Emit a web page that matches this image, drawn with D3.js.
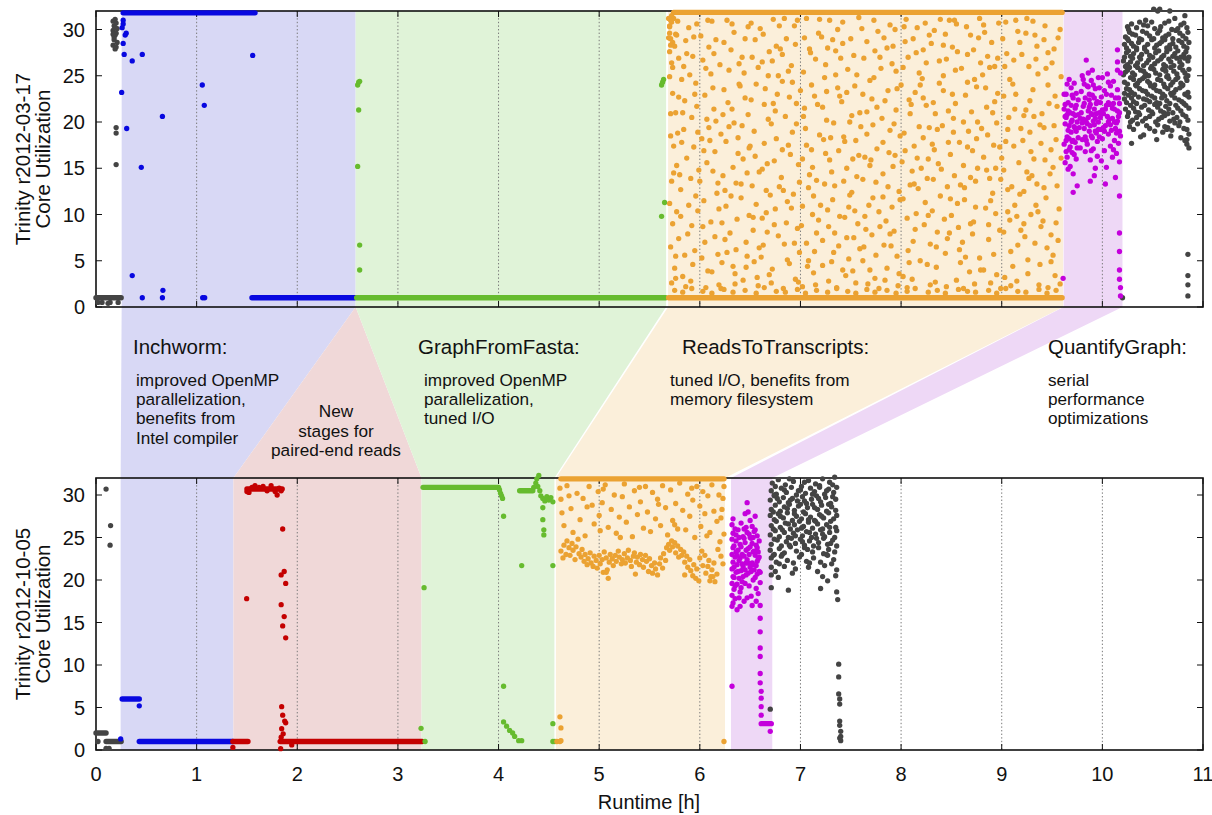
<!DOCTYPE html>
<html><head><meta charset="utf-8">
<script src="https://cdn.jsdelivr.net/npm/d3@7"></script>
<style>body{margin:0;background:#fff}svg{display:block;font-family:"Liberation Sans",Arial,Helvetica,sans-serif}</style>
</head><body><svg id="c" width="1212" height="815"></svg>
<script>
// ---------- data ----------
const xTicks=[0,1,2,3,4,5,6,7,8,9,10,11];
const yTicks=[0,5,10,15,20,25,30];
const gridHours=[1,2,3,4,5,6,7,8,9,10];
const panelTitles=[["Trinity r2012-03-17","Core Utilization"],["Trinity r2012-10-05","Core Utilization"]];
const xTitle="Runtime [h]";
const stageNames=["Inchworm","New stages","GraphFromFasta","ReadsToTranscripts","QuantifyGraph"];
const stageTop=[[0.255,2.58],[2.58,2.58],[2.58,5.665],[5.685,9.61],[9.615,10.20]];
const stageBottom=[[0.245,1.365],[1.365,3.235],[3.235,4.555],[4.57,6.25],[6.31,6.72]];
const noteHeads=["Inchworm:","GraphFromFasta:","ReadsToTranscripts:","QuantifyGraph:"];
const noteBodies=[["improved OpenMP","parallelization,","benefits from","Intel compiler"],["improved OpenMP","parallelization,","tuned I/O"],["tuned I/O, benefits from","memory filesystem"],["serial","performance","optimizations"]];
const noteNew=["New","stages for","paired-end reads"];

// runs: [series, xStart(h), xEnd(h), utilization]
const runsTop=[["gray",0.0,0.25,1.0],["blue",0.27,1.58,31.8],["blue",1.55,2.57,1.0],["green",2.59,5.66,1.0],["orange",5.69,9.60,1.0],["orange",5.74,9.60,31.85]];
const runsBottom=[["gray",0.0,0.10,2.0],["gray",0.10,0.25,1.0],["blue",0.26,0.43,6.0],["blue",0.43,1.36,1.0],["red",1.36,1.51,1.0],["red",1.50,1.85,30.7],["red",1.83,3.24,1.0],["green",3.25,4.0,30.9],["green",4.21,4.34,30.5],["orange",4.62,6.24,31.9],["magenta",6.61,6.71,3.1]];

// scattered samples, flat [h, util, h, util, ...]
const topGray=[0.17,30.9,0.18,30.4,0.17,29.9,0.19,29.4,0.18,28.9,0.17,28.3,0.19,27.9,0.20,30.7,0.20,29.6,0.21,28.6,0.19,31.1,0.18,29.2,0.20,28.1,0.21,30.1,0.17,29.5,0.19,30.2,0.20,19.4,0.20,18.8,0.20,15.4,0.02,0.5,0.06,0.5,0.12,0.4,0.14,0.5,0.22,0.5,
10.51,32.2,10.57,32.2,10.72,31.2,10.82,31.5,10.43,31.0,10.55,32.0,10.67,32.0,
10.25,30.3,10.29,30.6,10.37,30.8,10.45,30.4,10.52,30.1,10.62,30.7,10.69,30.0,10.78,30.5,10.84,30.2,
10.23,29.2,10.27,29.7,10.33,29.4,10.40,29.8,10.47,29.3,10.55,29.6,10.60,29.1,10.66,29.5,10.73,29.9,10.80,29.3,10.85,29.7,
10.22,28.4,10.26,28.8,10.31,28.2,10.36,28.6,10.42,28.1,10.49,28.9,10.54,28.3,10.59,28.7,10.64,28.0,10.70,28.5,10.76,28.8,10.81,28.2,10.86,28.6,
10.24,27.5,10.28,27.1,10.34,27.8,10.39,27.3,10.44,27.6,10.50,27.0,10.56,27.7,10.61,27.2,10.67,27.9,10.72,27.4,10.78,27.0,10.83,27.6,
10.21,26.6,10.25,26.2,10.30,26.9,10.35,26.4,10.41,26.1,10.46,26.7,10.52,26.3,10.58,26.8,10.63,26.0,10.68,26.5,10.74,26.9,10.79,26.2,10.85,26.6,
10.23,25.4,10.27,25.9,10.32,25.1,10.38,25.6,10.43,25.2,10.48,25.8,10.53,25.3,10.60,25.7,10.65,25.0,10.71,25.5,10.77,25.9,10.82,25.3,10.86,25.7,
10.22,24.3,10.28,24.8,10.33,24.0,10.37,24.5,10.42,24.9,10.47,24.2,10.55,24.6,10.61,24.1,10.66,24.7,10.70,24.3,10.75,24.8,10.80,24.0,10.84,24.5,
10.24,23.6,10.29,23.2,10.34,23.9,10.40,23.4,10.45,23.0,10.51,23.7,10.57,23.3,10.62,23.8,10.68,23.1,10.73,23.5,10.79,23.9,10.85,23.2,
10.22,22.5,10.26,22.9,10.31,22.2,10.36,22.7,10.44,22.4,10.49,22.8,10.54,22.1,10.59,22.6,10.64,22.3,10.69,22.9,10.76,22.4,10.81,22.0,10.86,22.7,
10.23,21.4,10.28,21.8,10.33,21.1,10.39,21.6,10.46,21.3,10.52,21.9,10.58,21.2,10.63,21.7,10.70,21.0,10.75,21.5,10.83,21.8,
10.25,20.6,10.30,20.2,10.37,20.8,10.43,20.4,10.50,20.9,10.56,20.3,10.62,20.7,10.67,20.1,10.74,20.5,10.80,20.8,10.85,20.2,
10.27,19.5,10.35,19.8,10.47,19.3,10.55,19.7,10.65,19.4,10.72,19.9,10.84,19.2,
10.41,18.6,10.60,18.9,10.78,18.3,10.86,18.7,10.84,17.6,10.86,17.2,10.29,17.7,10.64,19.2,10.84,18.1,
10.26,30.0,10.34,30.2,10.41,30.5,10.49,30.8,10.58,30.3,10.66,30.9,10.75,30.1,10.81,30.7,
10.25,29.0,10.30,29.5,10.37,29.0,10.44,29.6,10.51,29.0,10.57,29.9,10.63,29.3,10.70,29.0,10.77,29.6,10.83,29.0,
10.24,28.0,10.29,28.5,10.34,28.0,10.39,28.9,10.45,28.4,10.52,28.0,10.57,28.5,10.62,28.9,10.67,28.3,10.73,28.1,10.79,28.6,10.84,28.0,
10.22,27.0,10.26,27.7,10.31,27.4,10.37,27.0,10.42,27.9,10.47,27.2,10.53,27.5,10.59,27.0,10.64,27.6,10.70,27.1,10.75,27.7,10.81,27.3,10.86,27.0,
10.23,26.0,10.28,26.5,10.33,26.1,10.38,26.8,10.44,26.4,10.49,26.0,10.55,26.6,10.61,26.2,10.66,26.8,10.71,26.1,10.77,26.5,10.82,26.9,
10.21,25.1,10.25,25.6,10.30,25.3,10.35,25.9,10.41,25.5,10.46,25.0,10.51,25.7,10.57,25.1,10.63,25.5,10.68,25.9,10.74,25.2,10.80,25.6,10.85,25.0,
10.25,24.1,10.31,24.6,10.35,24.2,10.40,24.7,10.45,24.4,10.52,24.0,10.58,24.5,10.64,24.9,10.68,24.0,10.73,24.6,10.78,24.2,10.83,24.8,
10.22,23.1,10.27,23.5,10.32,23.0,10.37,23.6,10.43,23.3,10.48,23.9,10.54,23.4,10.60,23.0,10.65,23.6,10.71,23.2,10.77,23.7,10.82,23.0,
10.24,22.1,10.29,22.6,10.34,22.0,10.41,22.5,10.47,22.2,10.52,22.6,10.57,22.0,10.62,22.8,10.67,22.0,10.72,22.6,10.79,22.2,10.84,22.9,
10.26,21.0,10.31,21.5,10.36,21.0,10.42,21.8,10.49,21.1,10.55,21.6,10.61,21.0,10.66,21.4,10.73,21.8,10.78,21.2,10.86,21.5,
10.28,20.0,10.34,20.5,10.40,20.1,10.47,20.6,10.53,20.0,10.59,20.5,10.65,20.9,10.71,20.3,10.77,20.0,10.83,20.6,
10.31,19.2,10.44,19.6,10.52,19.0,10.62,19.5,10.69,19.1,10.76,19.6,10.81,19.3,10.38,18.4,10.54,18.1,10.68,18.5,10.82,18.0,
10.85,5.7,10.85,3.4,10.85,2.4,10.85,1.2,10.20,1.0];
const topBlue=[0.255,23.2,0.26,30.2,0.27,28.5,0.28,27.3,0.29,29.4,0.30,29.6,0.305,19.3,0.36,26.6,0.36,3.4,0.46,27.3,0.45,15.1,0.46,1.0,0.66,20.6,0.665,1.8,0.66,1.0,1.056,24.0,1.076,21.8,1.06,1.0,1.08,1.0,1.557,27.2,0.27,31.0,0.27,30.6];
const topGreen=[2.60,24.0,2.61,24.3,2.62,24.4,2.61,21.3,2.60,15.2,2.62,6.7,2.62,4.0,5.62,24.0,5.63,24.3,5.64,24.6,5.65,11.3,5.62,9.8];
const topOrange=[5.72,31.5,5.71,31.0,5.70,30.3,5.70,29.6,5.71,29.0,5.73,28.6,5.72,30.8,5.74,31.2,5.75,28.2,5.76,29.5,
5.69,31.2,5.70,30.4,5.69,29.1,5.71,28.3,5.70,27.6,5.72,26.4,5.70,24.9,5.73,23.1,5.71,20.9,5.74,17.4,5.72,13.6,5.70,11.2,5.73,9.0,5.71,6.5,5.75,4.2,5.72,2.6,5.78,30.9,5.77,29.4,5.79,26.9,5.76,21.0,5.78,18.8,5.77,15.3,5.79,7.4,5.76,3.1,
5.82,24.6,5.84,19.2,5.81,12.7,5.86,28.8,5.88,7.9,5.83,3.3,5.87,16.1,5.85,22.3,5.89,30.2,5.81,9.8,5.86,2.2,5.84,26.0,
5.91,13.9,5.93,27.1,5.95,6.1,5.92,20.5,5.97,30.6,5.94,17.3,5.98,10.4,5.96,24.2,5.91,2.8,5.99,14.8,5.93,4.6,5.97,21.7,
6.01,29.3,6.04,11.5,6.02,18.2,6.06,25.8,6.08,3.9,6.03,8.7,6.07,15.6,6.05,22.9,6.09,28.1,6.02,5.3,6.06,2.1,6.09,19.4,
6.11,9.2,6.13,23.7,6.15,16.8,6.12,30.9,6.17,12.3,6.14,27.4,6.18,5.7,6.16,20.1,6.19,2.4,6.11,25.2,6.15,7.6,6.18,13.4,
6.21,18.7,6.24,28.6,6.22,4.8,6.26,10.9,6.28,22.1,6.23,14.2,6.27,31.0,6.25,7.3,6.29,25.6,6.21,2.0,6.26,17.9,6.23,20.8,
6.31,27.8,6.33,15.1,6.35,3.6,6.32,21.4,6.37,9.5,6.34,29.7,6.38,18.3,6.36,6.2,6.39,24.1,6.31,12.0,6.35,2.5,6.38,16.6,
6.41,11.8,6.44,25.3,6.42,19.6,6.46,7.0,6.48,30.3,6.43,2.9,6.47,14.5,6.45,22.6,6.49,9.9,6.42,27.0,6.46,4.3,6.49,17.2,
6.51,22.4,6.53,8.3,6.55,28.9,6.52,13.1,6.57,3.2,6.54,19.0,6.58,25.9,6.56,11.1,6.59,6.4,6.51,30.7,6.55,16.3,6.58,2.3,
6.61,5.4,6.64,17.7,6.62,26.5,6.66,12.6,6.68,20.3,6.63,29.5,6.67,8.1,6.65,23.6,6.69,3.5,6.62,14.9,6.66,10.2,6.69,27.6,
6.71,19.8,6.73,31.1,6.75,10.6,6.72,4.1,6.77,23.0,6.74,15.8,6.78,7.7,6.76,28.2,6.79,13.0,6.71,2.6,6.75,21.2,6.78,25.0,
6.81,14.0,6.84,6.8,6.82,24.4,6.86,29.0,6.88,17.5,6.83,2.0,6.87,11.4,6.85,20.6,6.89,4.7,6.82,27.3,6.86,9.1,6.89,22.7,
6.91,26.1,6.93,12.2,6.95,3.0,6.92,18.9,6.97,8.5,6.94,30.4,6.98,15.4,6.96,22.0,6.99,5.9,6.91,10.7,6.95,28.4,6.98,2.7,
7.01,8.8,7.04,21.5,7.02,16.0,7.06,31.2,7.08,12.9,7.03,25.4,7.07,4.4,7.05,19.3,7.09,27.9,7.02,2.2,7.06,6.9,7.09,14.3,
7.11,17.0,7.13,3.7,7.15,26.8,7.12,10.0,7.17,21.9,7.14,6.0,7.18,29.6,7.16,13.7,7.19,18.6,7.11,24.0,7.15,2.4,7.18,9.4,
7.21,29.2,7.24,13.3,7.22,7.2,7.26,23.3,7.28,2.8,7.23,18.1,7.27,10.5,7.25,26.2,7.29,15.9,7.22,4.5,7.26,20.2,7.29,31.0,
7.31,4.9,7.33,19.9,7.35,25.1,7.32,11.6,7.37,30.0,7.34,8.0,7.38,16.9,7.36,2.1,7.39,22.8,7.31,14.6,7.35,27.7,7.38,6.6,
7.41,22.2,7.44,9.7,7.42,28.5,7.46,15.0,7.48,5.2,7.43,18.4,7.47,25.7,7.45,3.4,7.49,12.1,7.42,30.8,7.46,7.5,7.49,20.0,
7.51,12.4,7.53,27.2,7.55,18.0,7.52,3.9,7.57,9.0,7.54,23.9,7.58,31.3,7.56,14.1,7.59,6.3,7.51,20.7,7.55,2.6,7.58,16.4,
7.61,30.1,7.64,16.2,7.62,5.0,7.66,21.1,7.68,11.0,7.63,26.9,7.67,2.5,7.65,8.4,7.69,24.5,7.62,13.8,7.66,18.7,7.69,4.0,
7.71,7.8,7.73,24.8,7.75,13.5,7.72,19.7,7.77,29.8,7.74,3.1,7.78,10.3,7.76,17.1,7.79,27.0,7.71,22.5,7.75,5.6,7.78,2.0,
7.81,20.4,7.84,2.9,7.82,11.9,7.86,28.0,7.88,16.7,7.83,6.7,7.87,23.4,7.85,9.3,7.89,30.5,7.82,14.4,7.86,4.2,7.89,19.1,
7.91,26.3,7.93,8.2,7.95,21.3,7.92,15.2,7.97,2.3,7.94,30.0,7.98,12.5,7.96,5.5,7.99,18.5,7.91,10.8,7.95,25.5,7.98,3.6,
8.01,15.7,8.04,28.7,8.02,3.3,8.06,9.6,8.08,22.4,8.03,18.8,8.07,6.1,8.05,31.1,8.09,13.2,8.02,25.9,8.06,2.1,8.09,20.9,
8.11,3.0,8.13,17.4,8.15,27.5,8.12,7.1,8.17,12.8,8.14,23.2,8.18,19.5,8.16,30.2,8.19,5.0,8.11,14.7,8.15,10.1,8.18,25.3,
8.21,24.7,8.24,11.3,8.22,18.3,8.26,4.6,8.28,29.4,8.23,8.9,8.27,16.0,8.25,21.8,8.29,2.4,8.22,27.8,8.26,13.9,8.29,6.8,
8.31,10.4,8.33,29.9,8.35,6.5,8.32,22.1,8.37,15.5,8.34,2.7,8.38,26.6,8.36,19.2,8.39,12.0,8.31,17.6,8.35,4.3,8.38,24.2,
8.41,19.6,8.44,5.8,8.42,25.0,8.46,13.0,8.48,31.0,8.43,9.5,8.47,21.2,8.45,2.2,8.49,16.5,8.42,28.3,8.46,7.4,8.49,11.7,
8.51,28.1,8.53,14.2,8.55,2.9,8.52,20.4,8.57,8.6,8.54,25.6,8.58,17.8,8.56,11.2,8.59,4.8,8.51,23.0,8.55,30.6,8.58,6.2,
8.61,7.0,8.64,22.9,8.62,15.3,8.66,27.3,8.68,3.8,8.63,11.6,8.67,19.0,8.65,30.3,8.69,9.0,8.62,2.0,8.66,24.3,8.69,14.0,
8.71,16.9,8.73,2.5,8.75,23.8,8.72,9.2,8.77,29.1,8.74,13.6,8.78,5.3,8.76,20.0,8.79,26.4,8.71,7.9,8.75,18.2,8.78,31.2,
8.81,25.1,8.84,10.7,8.82,4.0,8.86,18.6,8.88,13.9,8.83,29.7,8.87,7.3,8.85,21.6,8.89,2.6,8.82,16.2,8.86,27.1,8.89,11.5,
8.91,12.3,8.93,26.0,8.95,19.9,8.92,5.7,8.97,30.7,8.94,15.0,8.98,8.3,8.96,23.1,8.99,2.0,8.91,21.0,8.95,3.5,8.98,17.3,
9.01,29.0,9.04,17.9,9.02,8.1,9.06,12.7,9.08,24.6,9.03,3.2,9.07,20.5,9.05,27.4,9.09,6.0,9.02,14.8,9.06,10.3,9.09,2.3,
9.11,4.4,9.13,21.4,9.15,9.8,9.12,26.7,9.17,15.6,9.14,31.0,9.18,12.2,9.16,6.7,9.19,19.3,9.11,24.1,9.15,2.8,9.18,28.6,
9.21,18.0,9.24,29.6,9.22,12.5,9.26,3.6,9.28,22.3,9.23,7.6,9.27,26.0,9.25,14.6,9.29,10.0,9.22,20.7,9.26,5.1,9.29,16.8,
9.31,23.5,9.33,6.9,9.35,28.2,9.32,16.0,9.37,2.4,9.34,11.0,9.38,19.7,9.36,25.2,9.39,8.7,9.31,30.9,9.35,13.3,9.38,4.6,
9.41,9.3,9.44,25.8,9.42,19.4,9.46,2.1,9.48,14.4,9.43,30.4,9.47,22.0,9.45,6.4,9.49,17.0,9.42,12.9,9.46,27.5,9.49,4.9,
9.51,15.1,9.53,3.4,9.55,21.7,9.52,27.9,9.57,10.6,9.54,18.1,9.58,30.0,9.56,7.2,9.59,24.9,9.51,5.6,9.55,13.1,9.58,2.5,
5.75,1.8,5.83,1.6,5.92,2.0,6.03,1.7,6.12,1.5,6.24,1.9,6.33,1.6,6.45,1.8,6.56,1.5,6.64,2.1,6.76,1.7,6.85,1.6,6.97,1.9,7.05,1.5,7.16,1.8,7.27,1.6,7.36,2.0,7.47,1.7,7.55,1.5,7.66,1.9,7.74,1.6,7.86,1.8,7.95,1.5,8.06,1.7,8.14,2.0,8.27,1.6,8.36,1.8,8.44,1.5,8.57,1.9,8.66,1.7,8.74,1.6,8.87,1.8,8.95,1.5,9.04,2.0,9.16,1.7,9.24,1.6,9.37,1.9,9.45,1.5,9.54,1.8,
5.71,18.5,5.73,25.9,5.74,14.5,5.77,10.3,5.79,22.7,5.76,5.5,
5.80,14.3,5.83,21.0,5.85,5.6,5.87,27.4,5.89,11.0,5.82,17.8,5.90,25.1,5.92,8.8,5.94,29.2,5.96,12.0,5.98,18.9,5.95,23.0,
6.00,13.6,6.03,26.7,6.05,7.0,6.07,20.3,6.08,31.0,6.04,16.9,6.10,18.0,6.12,3.8,6.14,21.4,6.16,28.9,6.19,10.6,6.13,14.7,
6.20,26.2,6.22,9.1,6.25,12.6,6.27,5.9,6.29,19.5,6.24,23.5,6.30,8.0,6.32,30.6,6.34,19.9,6.36,13.4,6.39,26.3,6.33,4.4,
6.40,23.9,6.43,16.0,6.45,29.0,6.47,5.5,6.48,20.8,6.41,13.3,6.50,17.4,6.52,27.0,6.54,4.9,6.56,24.1,6.59,14.6,6.53,9.7,
6.60,30.1,6.62,9.6,6.64,21.9,6.67,15.5,6.68,25.0,6.63,6.7,6.70,12.1,6.72,26.6,6.74,8.9,6.76,18.2,6.79,30.4,6.73,22.0,
6.80,27.9,6.82,17.0,6.84,31.2,6.87,5.1,6.88,25.5,6.83,12.6,6.90,16.5,6.92,24.3,6.94,6.9,6.96,19.8,6.99,13.5,6.97,31.0,
7.00,23.4,7.02,10.9,7.04,29.1,7.06,17.5,7.08,5.0,7.03,20.6,7.10,27.5,7.12,15.1,7.14,22.8,7.16,8.0,7.19,31.1,7.13,12.0,
7.20,11.0,7.22,21.6,7.25,16.6,7.27,28.0,7.28,8.7,7.24,24.8,7.30,18.3,7.32,28.9,7.34,13.1,7.37,23.7,7.39,9.8,7.33,5.9,
7.40,26.9,7.42,4.0,7.44,17.9,7.46,23.2,7.48,10.8,7.43,13.6,7.50,29.0,7.52,16.0,7.54,10.4,7.56,25.1,7.59,21.0,7.53,7.5,
7.60,19.5,7.62,23.0,7.64,9.8,7.66,28.7,7.69,15.3,7.63,6.5,7.70,15.9,7.72,11.8,7.74,27.7,7.76,21.6,7.79,8.7,7.73,31.0,
7.80,25.8,7.82,17.8,7.84,22.3,7.87,13.0,7.89,7.9,7.83,29.1,7.90,6.6,7.92,28.2,7.94,16.4,7.96,23.6,7.99,11.6,7.93,19.8,
8.00,24.0,8.02,11.7,8.04,16.9,8.07,27.0,8.08,4.8,8.03,30.3,8.10,21.9,8.12,29.0,8.14,8.4,8.16,16.1,8.19,24.0,8.13,13.3,
8.20,15.0,8.22,22.6,8.24,30.7,8.27,9.9,8.28,19.4,8.25,26.4,8.30,28.5,8.32,13.8,8.34,20.9,8.36,8.1,8.39,31.1,8.33,17.0,
8.40,14.9,8.42,23.4,8.44,29.5,8.47,17.8,8.48,8.0,8.45,26.8,8.50,9.9,8.52,18.9,8.54,22.0,8.56,27.6,8.59,13.2,8.53,31.0,
8.60,25.8,8.62,20.0,8.64,5.4,8.66,17.3,8.69,29.4,8.63,12.9,8.70,21.1,8.72,27.8,8.74,10.8,8.76,15.0,8.79,4.0,8.73,24.6,
8.80,19.3,8.82,30.5,8.84,23.7,8.87,8.9,8.88,25.9,8.85,14.8,8.90,28.6,8.92,17.5,8.94,10.1,8.96,26.9,8.99,13.8,8.93,22.2,
9.00,16.1,9.02,22.8,9.04,30.8,9.06,19.2,9.08,9.4,9.03,26.0,9.10,13.0,9.12,17.4,9.14,23.0,9.16,29.8,9.19,8.3,9.13,11.0,
9.20,27.3,9.22,9.0,9.24,21.3,9.27,13.9,9.28,18.9,9.25,31.2,9.30,14.2,9.32,20.6,9.34,26.8,9.36,10.3,9.39,17.7,9.33,29.4,
9.40,20.9,9.42,28.9,9.44,11.8,9.46,24.0,9.49,7.8,9.43,15.9,9.50,26.4,9.52,19.6,9.54,9.1,9.56,29.1,9.59,16.1,9.53,22.8];
const topMagenta=[9.62,21.4,9.63,19.8,9.62,17.6,9.63,15.6,9.64,23.0,9.64,20.5,9.65,18.4,9.65,16.2,9.66,22.1,9.66,19.1,9.67,24.6,9.67,17.0,9.68,21.0,9.68,15.2,9.69,23.7,9.69,18.9,9.70,20.2,9.70,16.7,9.71,22.6,9.71,14.4,9.72,19.5,9.72,24.2,9.73,17.8,9.73,21.5,9.74,23.1,9.74,16.0,9.75,20.0,9.75,13.1,9.76,18.3,9.76,22.4,9.63,21.9,9.65,20.8,9.67,19.6,9.69,21.8,9.71,18.0,9.73,20.7,9.64,18.0,9.68,17.3,9.70,22.9,9.72,16.5,9.74,19.0,9.66,14.9,9.71,12.4,
9.78,20.4,9.79,23.3,9.80,18.1,9.80,25.0,9.81,21.7,9.82,19.3,9.82,24.1,9.83,16.8,9.83,22.6,9.84,26.7,9.84,20.0,9.85,23.9,9.85,17.6,9.86,21.2,9.86,25.3,9.87,19.0,9.87,23.0,9.88,15.9,9.88,21.9,9.89,24.5,9.89,18.5,9.90,20.8,9.90,22.9,9.91,17.1,9.91,24.0,9.92,19.7,9.92,21.4,9.93,15.0,9.93,23.6,9.94,18.8,9.94,20.9,9.95,22.2,9.95,16.3,9.96,19.2,9.96,24.8,9.97,21.0,9.81,20.3,9.83,18.4,9.85,19.8,9.87,21.6,9.89,16.9,9.91,20.1,9.93,19.0,9.95,17.9,9.86,23.8,9.90,25.6,9.92,14.2,9.88,13.6,
9.98,20.5,9.99,22.7,10.00,18.2,10.00,24.8,10.01,20.9,10.02,16.9,10.02,23.4,10.03,19.6,10.04,21.8,10.04,15.1,10.05,25.2,10.06,18.7,10.06,22.1,10.07,20.3,10.08,17.4,10.08,23.9,10.09,19.1,10.10,21.5,10.10,16.2,10.11,24.4,10.12,20.0,10.12,18.0,10.13,22.6,10.13,14.0,10.14,19.9,10.15,21.2,10.15,23.5,10.16,17.7,10.16,20.6,10.17,19.0,10.17,22.0,10.18,25.3,10.18,18.5,10.01,19.4,10.05,20.6,10.09,22.9,10.11,17.0,10.14,18.8,10.03,13.3,9.99,15.8,
9.63,20.6,9.64,16.8,9.66,21.2,9.67,18.2,9.69,20.0,9.70,17.9,9.71,20.9,9.73,19.3,9.74,21.8,9.75,17.2,9.76,20.8,9.77,19.4,9.79,21.0,9.80,19.9,9.82,22.0,9.83,20.2,9.84,18.0,9.86,20.5,9.87,22.4,9.88,19.6,9.89,20.9,9.90,18.3,9.92,22.6,9.93,20.4,9.94,22.0,9.96,20.0,9.97,18.4,9.98,22.1,9.99,19.2,10.00,21.3,10.02,19.0,10.03,21.4,10.04,23.0,10.06,20.0,10.07,21.9,10.08,19.7,10.10,20.4,10.11,22.0,10.12,21.4,10.13,19.3,10.15,20.1,10.16,22.6,10.17,21.0,9.62,23.0,9.65,24.1,9.78,17.2,9.81,24.6,9.97,23.7,10.06,24.3,10.14,16.6,
10.15,27.8,10.15,26.5,10.15,25.6,10.17,15.7,10.17,12.0,10.17,8.0,10.17,6.0,10.17,4.0,10.17,3.0,10.18,2.1,10.18,1.2,9.61,3.1];

const botGray=[0.10,30.7,0.145,26.4,0.14,24.1,0.02,1.0,0.10,0.2,0.13,0.2,
6.72,31.4,6.78,31.8,6.85,31.2,6.93,31.6,7.01,31.0,7.08,31.7,7.15,31.3,7.22,31.9,7.29,31.5,7.34,32.1,6.75,31.0,6.89,31.9,7.04,31.5,7.19,31.1,7.32,31.2,
6.71,30.5,6.76,30.1,6.81,30.8,6.86,30.3,6.91,30.9,6.96,30.0,7.00,30.6,7.05,30.2,7.10,30.8,7.14,30.4,7.19,30.9,7.24,30.1,7.28,30.7,7.33,30.3,7.36,30.9,6.74,30.0,6.84,30.6,6.98,30.5,7.12,30.1,7.26,30.5,
6.70,29.4,6.74,29.9,6.79,29.2,6.83,29.7,6.88,29.1,6.92,29.6,6.97,29.3,7.02,29.8,7.06,29.0,7.11,29.5,7.16,29.9,7.20,29.2,7.25,29.7,7.30,29.0,7.35,29.5,6.77,29.6,6.90,29.4,7.04,29.3,7.18,29.6,7.32,29.8,
6.71,28.3,6.75,28.8,6.80,28.1,6.84,28.6,6.89,28.9,6.94,28.2,6.98,28.7,7.03,28.0,7.07,28.5,7.12,28.9,7.17,28.3,7.21,28.8,7.26,28.1,7.31,28.6,7.35,28.2,6.73,28.0,6.87,28.4,7.00,28.9,7.14,28.5,7.28,28.9,
6.70,27.6,6.74,27.1,6.78,27.8,6.83,27.3,6.87,27.9,6.92,27.0,6.96,27.5,7.01,27.2,7.05,27.8,7.10,27.4,7.14,27.0,7.19,27.7,7.23,27.3,7.28,27.9,7.33,27.2,6.80,27.5,6.94,27.8,7.08,27.1,7.21,27.5,7.36,27.6,
6.71,26.4,6.76,26.9,6.80,26.2,6.85,26.7,6.90,26.0,6.94,26.5,6.99,26.9,7.03,26.3,7.08,26.8,7.12,26.1,7.17,26.6,7.22,26.0,7.26,26.5,7.30,26.9,7.35,26.2,6.73,26.0,6.88,26.6,7.01,26.1,7.15,26.9,7.29,26.2,
6.70,25.3,6.75,25.8,6.79,25.1,6.84,25.6,6.88,25.0,6.93,25.5,6.97,25.9,7.02,25.2,7.06,25.7,7.11,25.0,7.15,25.4,7.20,25.9,7.24,25.1,7.29,25.6,7.34,25.0,6.82,25.9,6.95,25.2,7.09,25.6,7.22,25.4,7.36,25.8,
6.71,24.2,6.77,24.7,6.81,24.0,6.86,24.5,6.91,24.9,6.95,24.3,7.00,24.8,7.04,24.1,7.09,24.6,7.13,24.0,7.18,24.4,7.23,24.9,7.27,24.2,7.32,24.7,7.36,24.0,6.74,24.8,6.89,24.1,7.02,24.5,7.16,24.9,7.30,24.3,
6.70,23.5,6.74,23.0,6.79,23.7,6.84,23.2,6.90,23.9,6.96,23.4,7.01,23.0,7.07,23.6,7.12,23.3,7.18,23.8,7.23,23.1,7.28,23.6,7.34,23.3,6.82,23.0,7.04,23.8,7.26,23.0,
6.71,22.6,6.76,22.1,6.81,22.8,6.87,22.3,6.93,22.0,6.99,22.7,7.06,22.2,7.13,22.6,7.20,22.1,7.27,22.9,7.33,22.4,6.73,22.9,7.09,22.0,7.31,21.9,
6.71,21.5,6.75,21.0,6.84,21.6,6.95,21.3,7.08,21.5,7.17,21.0,7.24,21.7,7.36,21.2,6.79,21.9,
6.71,20.6,6.78,20.3,6.92,20.8,7.22,20.4,7.27,19.9,7.35,20.5,6.71,19.1,6.88,18.8,7.20,19.0,7.37,17.7,7.36,18.6,6.70,4.8,
7.38,10.1,7.38,8.6,7.38,6.6,7.39,6.0,7.39,5.4,7.39,3.4,7.39,2.9,7.40,2.2,7.40,1.6,7.40,1.1,7.39,1.4];
const botBlue=[0.245,1.3,0.43,5.2];
const botRed=[1.36,0.3,1.497,17.8,1.50,30.4,1.52,30.3,1.55,30.9,1.58,31.1,1.62,30.9,1.66,31.0,1.70,30.5,1.74,31.1,1.78,30.4,1.80,30.0,1.82,30.8,1.84,30.5,
1.855,26.0,1.84,20.6,1.87,21.0,1.885,19.6,1.84,17.1,1.87,15.7,1.855,14.6,1.885,13.2,1.845,5.1,1.855,4.1,1.875,3.4,1.885,3.2,1.845,2.5,1.86,1.9,1.84,1.5,1.835,0.15,1.945,0.6];
const botGreen=[3.23,2.55,3.27,1.0,3.26,19.1,4.01,30.6,4.02,30.2,4.03,29.9,4.04,29.6,4.05,27.5,4.05,7.5,4.05,3.3,4.08,2.8,4.11,2.3,4.14,2.0,4.16,1.6,4.20,1.1,4.23,1.1,4.23,21.7,
4.35,30.9,4.37,31.4,4.38,31.9,4.40,32.3,4.39,31.0,4.41,30.5,4.42,29.9,4.44,29.6,4.46,29.3,4.48,29.8,4.50,29.4,4.52,29.7,4.54,29.2,4.44,28.5,4.44,27.1,4.45,25.9,4.45,25.3,4.54,21.7,4.54,3.1,4.54,1.0,4.56,1.0];
const botOrange=[4.61,3.9,4.62,2.6,4.58,1.0,4.61,1.0,4.62,1.1,6.24,1.0,
4.62,23.4,4.64,22.6,4.65,24.1,4.67,23.0,4.68,24.6,4.70,23.8,4.71,22.9,4.73,24.3,4.74,23.5,4.76,22.4,4.77,23.9,4.79,24.8,4.80,23.1,4.82,22.7,4.83,23.6,4.85,22.2,4.86,23.0,4.88,21.8,4.89,22.5,4.91,23.2,4.92,22.0,4.94,21.6,4.95,22.8,4.97,22.3,4.98,21.4,5.00,22.9,5.01,21.9,5.03,22.4,5.04,20.9,5.05,23.3,5.07,22.6,5.08,21.2,5.10,22.1,5.11,23.0,5.13,22.5,5.14,21.7,5.16,22.9,5.17,22.2,5.19,23.4,5.20,22.7,5.22,21.9,5.23,22.4,5.25,23.1,5.26,22.0,5.28,22.6,5.29,23.5,5.31,22.3,5.32,21.6,5.34,22.8,5.35,23.2,5.37,22.1,5.38,22.7,5.40,21.8,5.41,23.0,5.43,22.4,5.44,21.5,5.46,22.9,5.47,22.2,5.49,21.0,5.50,22.5,5.52,21.7,5.53,20.8,5.55,22.0,5.56,21.3,5.58,20.6,5.60,21.9,5.61,22.6,5.63,21.4,5.64,23.1,5.66,22.3,5.67,23.8,5.69,24.2,5.70,23.5,5.72,24.6,5.73,23.9,5.75,24.4,5.76,23.2,5.78,24.0,5.79,22.7,5.81,23.6,5.82,22.9,5.84,23.3,5.85,22.1,5.87,22.8,5.88,21.5,5.90,22.4,5.91,21.1,5.93,20.5,5.94,21.8,5.96,20.2,5.97,21.3,5.99,19.9,6.00,22.6,6.02,23.4,6.03,21.7,6.05,22.9,6.06,20.8,6.08,21.6,6.09,22.3,6.11,20.4,6.12,21.2,6.14,22.0,6.15,19.8,6.17,20.7,6.18,23.6,6.20,24.5,6.21,22.8,6.23,21.9,
4.61,30.8,4.62,29.5,4.63,27.9,4.65,26.4,4.68,31.1,4.72,28.4,4.74,25.6,4.78,30.2,4.81,27.1,4.84,29.6,4.86,25.2,4.90,31.0,4.93,28.8,4.95,26.6,4.99,30.4,5.00,27.6,5.01,25.8,5.03,29.1,5.06,31.2,5.09,26.2,5.12,28.3,5.15,30.0,5.17,25.5,5.20,27.4,5.23,29.8,5.25,31.3,5.27,26.8,5.30,28.6,5.33,25.1,5.35,30.5,5.38,27.7,5.41,29.2,5.44,26.1,5.46,31.0,5.48,28.0,5.51,25.7,5.53,30.3,5.56,27.2,5.58,29.5,5.61,26.4,5.63,31.1,5.66,28.5,5.68,25.3,5.71,30.6,5.73,27.0,5.76,29.0,5.78,26.0,5.80,31.4,5.83,28.2,5.86,25.9,5.88,30.1,5.90,27.5,5.93,29.4,5.95,25.0,5.97,31.0,6.00,28.7,6.01,26.3,6.03,30.4,6.05,27.8,6.08,29.9,6.10,25.6,6.12,31.2,6.14,28.1,6.17,26.9,6.19,30.0,6.21,27.3,6.23,29.6,6.24,31.0,6.24,25.4,4.70,29.9,4.88,28.6,5.04,30.7,5.21,25.0,5.40,30.9,5.59,28.9,5.75,26.5,5.92,30.8,6.07,25.2,6.22,28.3,
5.09,20.2,5.07,20.9,6.13,20.4,6.10,19.9,5.36,20.7,5.85,20.6];
const botMagenta=[6.32,26.5,6.32,24.8,6.32,23.0,6.32,21.3,6.32,19.6,6.32,18.2,6.32,16.9,6.33,27.2,6.33,25.5,6.33,22.1,6.33,20.4,6.34,24.0,6.34,18.9,6.35,26.0,6.35,22.7,6.35,17.8,6.36,20.9,6.36,24.6,6.37,21.8,6.37,19.5,6.38,23.5,6.38,25.9,6.39,20.2,6.39,22.3,6.40,24.2,6.40,18.6,6.41,21.1,6.41,26.7,6.42,23.0,6.42,19.8,6.43,25.1,6.43,21.6,6.44,22.8,6.44,17.5,6.45,27.8,6.45,24.4,6.46,20.6,6.46,26.2,6.47,29.1,6.47,22.4,6.48,28.0,6.48,23.7,6.49,25.4,6.49,19.3,6.50,27.0,6.50,21.5,6.51,24.9,6.51,18.1,6.52,26.3,6.52,22.0,6.53,23.3,6.53,20.0,6.54,25.7,6.54,21.2,6.55,27.5,6.55,22.9,6.56,24.1,6.56,19.0,6.57,20.7,6.57,23.8,6.58,22.5,6.58,18.4,6.59,21.0,6.59,24.6,6.60,19.7,6.60,17.0,6.34,21.5,6.36,23.3,6.39,25.0,6.41,19.1,6.44,24.9,6.46,22.0,6.48,20.8,6.50,23.9,6.53,25.0,6.55,20.3,6.57,22.2,6.33,17.3,6.37,16.5,6.40,16.9,6.47,17.9,6.52,17.0,
6.33,23.8,6.34,20.3,6.36,25.3,6.37,22.9,6.38,21.0,6.40,22.6,6.41,23.9,6.42,21.9,6.43,20.4,6.44,26.0,6.45,21.2,6.46,23.5,6.47,25.6,6.48,22.0,6.49,23.0,6.50,25.0,6.51,21.0,6.52,24.3,6.53,21.8,6.54,23.4,6.55,25.9,6.56,21.7,6.57,25.2,6.58,23.3,6.59,22.7,6.60,20.9,6.35,19.3,6.39,17.9,6.45,19.6,6.56,17.5,
6.32,7.5,6.60,15.5,6.60,13.9,6.60,12.0,6.60,11.0,6.60,9.0,6.60,7.9,6.61,6.9,6.61,6.1,6.61,5.1,6.61,4.1,6.70,2.2];

// ---------- styles ----------
const color={gray:"#444444",blue:"#0808e0",green:"#66bb2e",orange:"#eba232",magenta:"#c400dc",red:"#c40000"};
const stageFill=["#d8d8f5","#f0d8d8","#e0f3d8","#fbefda","#eed8f6"];

// ---------- drawing ----------
const svg=d3.select("#c");
const x=d3.scaleLinear().domain([0,11]).range([96,1203]);
const yTop=d3.scaleLinear().domain([0,32]).range([307,11]);
const yBot=d3.scaleLinear().domain([0,32]).range([750,478]);
const pairs=a=>{const o=[];for(let i=0;i<a.length;i+=2)o.push([a[i],a[i+1]]);return o;};

const gS=svg.append("g");
stageNames.forEach((n,i)=>{
  const [t0,t1]=stageTop[i],[b0,b1]=stageBottom[i];
  const p=[[x(t0),yTop(32)],[x(t1),yTop(32)],[x(t1),yTop(0)],[x(b1),yBot(32)],[x(b1),yBot(0)],[x(b0),yBot(0)],[x(b0),yBot(32)],[x(t0),yTop(0)]];
  gS.append("path").attr("d",d3.line()(p)+"Z").attr("fill",stageFill[i]);
});

function panel(y,runs,sets,showX,titles){
  const g=svg.append("g");
  const y0=y.range()[1],y1=y.range()[0];
  g.selectAll(".grid").data(gridHours).join("line")
    .attr("x1",d=>x(d)).attr("x2",d=>x(d)).attr("y1",y0).attr("y2",y1)
    .attr("stroke","#7a7a7a").attr("stroke-width",1).attr("stroke-dasharray","1.4,2.2");
  g.append("rect").attr("x",x(0)).attr("y",y0).attr("width",x(11)-x(0)).attr("height",y1-y0)
    .attr("fill","none").attr("stroke","#111").attr("stroke-width",1.6);
  yTicks.forEach(t=>{
    g.append("line").attr("x1",x(0)).attr("x2",x(0)+6).attr("y1",y(t)).attr("y2",y(t)).attr("stroke","#111");
    g.append("line").attr("x1",x(11)).attr("x2",x(11)-6).attr("y1",y(t)).attr("y2",y(t)).attr("stroke","#111");
  });
  xTicks.forEach(t=>{
    g.append("line").attr("x1",x(t)).attr("x2",x(t)).attr("y1",y1).attr("y2",y1-6).attr("stroke","#111");
    g.append("line").attr("x1",x(t)).attr("x2",x(t)).attr("y1",y0).attr("y2",y0+6).attr("stroke","#111");
  });
  const line=d3.line();
  runs.forEach(r=>{
    g.append("path").attr("d",line([[x(r[1]),y(r[3])],[x(r[2]),y(r[3])]]))
      .attr("stroke",color[r[0]]).attr("stroke-width",5.4).attr("stroke-linecap","round").attr("fill","none");
  });
  sets.forEach(([name,arr])=>{
    g.append("g").selectAll("circle").data(pairs(arr)).join("circle")
      .attr("cx",d=>x(d[0])).attr("cy",d=>y(d[1])).attr("r",2.65).attr("fill",color[name]);
  });
  g.selectAll(".yl").data(yTicks).join("text").attr("x",85).attr("y",d=>y(d)).attr("dy","0.36em")
    .attr("text-anchor","end").attr("font-size",20).attr("fill","#111").text(d=>d);
  if(showX){
    g.selectAll(".xl").data(xTicks).join("text").attr("x",d=>x(d)).attr("y",781)
      .attr("text-anchor","middle").attr("font-size",20).attr("fill","#111").text(d=>d);
  }
  const cy=(y0+y1)/2;
  titles.forEach((t,i)=>{
    g.append("text").attr("transform",`translate(${30+i*20},${cy}) rotate(-90)`)
      .attr("text-anchor","middle").attr("font-size",20.5).attr("fill","#111").text(t);
  });
}

panel(yTop,runsTop,[["gray",topGray],["blue",topBlue],["green",topGreen],["orange",topOrange],["magenta",topMagenta]],false,panelTitles[0]);
panel(yBot,runsBottom,[["gray",botGray],["blue",botBlue],["red",botRed],["green",botGreen],["orange",botOrange],["magenta",botMagenta]],true,panelTitles[1]);

svg.append("text").attr("x",649).attr("y",809).attr("text-anchor","middle").attr("font-size",20).attr("fill","#111").text(xTitle);

const headX=[133,418,682,1048], bodyX=[136,424,670,1048];
const tg=svg.append("g").attr("fill","#111");
noteHeads.forEach((h,i)=>{
  tg.append("text").attr("x",headX[i]).attr("y",354).attr("font-size",20.5).text(h);
  noteBodies[i].forEach((l,j)=>tg.append("text").attr("x",bodyX[i]).attr("y",386+j*19.2).attr("font-size",17.2).text(l));
});
noteNew.forEach((l,j)=>tg.append("text").attr("x",336).attr("y",417+j*19.5).attr("text-anchor","middle").attr("font-size",17.2).text(l));
</script></body></html>
